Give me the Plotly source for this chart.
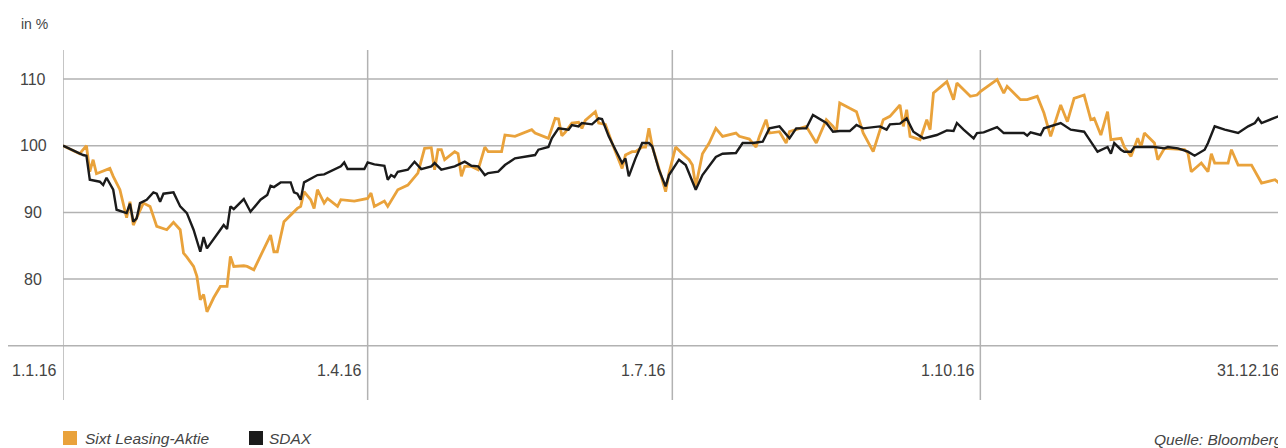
import pandas as pd
import plotly.graph_objects as go

# ---------------- data ----------------
sdax_days = [0, 6, 7, 8, 11, 12, 13, 15, 16, 19, 20, 21, 22, 23, 25, 27, 28, 29, 30, 33,
             35, 37, 39, 41, 42, 43, 47, 48, 49, 50, 51, 53, 54, 56, 59, 61, 62, 63, 65, 68,
             69, 70, 71, 72, 74, 76, 78, 81, 83, 84, 85, 90, 91, 93, 96, 97, 98, 99, 100, 103,
             105, 107, 110, 111, 113, 117, 120, 122, 124, 126, 127, 130, 132, 135, 138, 141, 142, 145, 146, 148,
             151, 152, 154, 155, 158, 160, 161, 163, 165, 167, 168, 169, 171, 173, 175, 176, 178, 180, 181, 182,
             184, 186, 189, 191, 194, 195, 197, 201, 203, 206, 209, 211, 214, 217, 219, 222, 224, 226, 228, 230,
             232, 235, 237, 239, 244, 246, 247, 250, 252, 254, 257, 261, 264, 266, 267, 269, 272, 273, 275, 279,
             281, 287, 288, 289, 292, 293, 298, 301, 305, 307, 309, 312, 313, 314, 316, 317, 319, 320, 326, 329,
             330, 333, 336, 338, 341, 342, 344, 347, 351, 354, 356, 357, 358, 363, 365]
sdax_values = [100.0, 98.6, 98.5, 94.9, 94.6, 94.1, 95.2, 93.4, 90.4, 89.9, 91.3, 88.6, 89.1, 91.4, 91.9, 93.0, 92.8, 91.6, 92.8, 93.0,
               90.9, 89.9, 87.4, 84.1, 86.3, 84.6, 87.4, 88.1, 87.5, 90.9, 90.5, 91.6, 92.0, 90.1, 91.9, 92.6, 94.0, 93.8, 94.5, 94.5,
               93.0, 92.8, 91.9, 94.5, 95.1, 95.6, 95.7, 96.4, 96.9, 97.5, 96.5, 96.5, 97.5, 97.2, 97.0, 94.9, 95.6, 95.3, 96.1, 96.4,
               97.6, 96.5, 96.9, 97.4, 96.4, 96.9, 97.6, 97.0, 96.9, 95.6, 95.9, 96.1, 97.1, 98.1, 98.3, 98.6, 99.4, 99.8, 101.1, 102.6,
               102.4, 103.1, 102.9, 103.4, 103.2, 104.1, 104.0, 101.4, 99.4, 97.4, 98.1, 95.4, 98.1, 100.4, 100.4, 99.9, 96.4, 93.9, 95.6, 96.4,
               97.9, 97.1, 93.4, 95.6, 97.6, 98.3, 98.8, 98.9, 100.4, 100.4, 100.6, 102.6, 102.9, 101.1, 102.6, 102.6, 104.6, 104.0, 103.4, 102.1,
               102.2, 102.2, 103.1, 102.6, 102.9, 102.4, 103.2, 103.3, 104.1, 102.1, 101.1, 101.6, 102.3, 102.2, 103.4, 102.4, 101.1, 101.9, 102.0, 102.8,
               101.9, 101.9, 101.5, 102.0, 101.6, 102.6, 103.4, 102.4, 102.1, 100.6, 99.1, 99.8, 98.8, 100.4, 99.4, 99.1, 99.1, 99.8, 99.8, 99.6,
               99.8, 99.6, 99.1, 98.5, 99.4, 100.4, 102.9, 102.4, 101.9, 102.9, 103.4, 104.1, 103.4, 104.4, 104.4]

sixt_days = [0, 5, 7, 8, 9, 10, 14, 15, 17, 19, 20, 21, 24, 26, 28, 31, 33, 35, 36, 37,
             39, 40, 41, 42, 43, 45, 47, 49, 50, 51, 54, 55, 57, 60, 62, 63, 64, 66, 68, 70,
             71, 72, 74, 75, 76, 78, 79, 82, 83, 87, 91, 92, 93, 96, 97, 100, 103, 106, 108, 110,
             111, 112, 113, 114, 117, 118, 119, 120, 122, 124, 126, 127, 131, 132, 135, 140, 141, 145, 147, 148,
             149, 150, 152, 154, 155, 156, 159, 160, 162, 164, 167, 168, 170, 171, 173, 174, 175, 176, 178, 180,
             181, 183, 185, 187, 188, 189, 191, 193, 195, 197, 201, 202, 205, 207, 208, 210, 211, 214, 216, 217,
             222, 225, 228, 230, 231, 232, 235, 237, 239, 242, 245, 247, 250, 251, 252, 253, 256, 258, 259, 260,
             264, 266, 267, 271, 273, 274, 279, 281, 282, 286, 288, 291, 293, 295, 298, 300, 302, 305, 307, 308,
             310, 312, 313, 316, 317, 319, 321, 322, 323, 326, 327, 329, 335, 336, 337, 340, 342, 343, 344, 348,
             349, 351, 355, 358, 362, 364, 365]
sixt_values = [100.0, 98.8, 100.0, 96.1, 97.9, 95.8, 96.6, 95.4, 93.4, 89.2, 91.6, 88.1, 91.4, 90.9, 87.9, 87.4, 88.5, 87.4, 83.9, 83.3,
               81.9, 80.4, 76.9, 77.7, 75.1, 77.2, 78.9, 78.9, 83.4, 81.9, 82.0, 81.9, 81.4, 84.4, 86.6, 84.1, 84.1, 88.6, 89.6, 90.6,
               90.9, 93.1, 91.9, 90.6, 93.4, 91.4, 92.1, 90.9, 91.9, 91.7, 92.1, 92.9, 90.9, 91.7, 90.9, 93.4, 94.1, 95.9, 99.6, 99.7,
               96.4, 99.4, 99.4, 97.9, 99.1, 98.8, 95.4, 96.9, 96.9, 96.4, 99.8, 99.1, 99.1, 101.6, 101.4, 102.4, 101.9, 101.1, 104.1, 104.0,
               101.5, 102.0, 103.4, 103.5, 102.6, 103.8, 105.1, 103.4, 103.2, 100.4, 96.6, 98.6, 99.1, 99.1, 99.8, 99.8, 102.6, 99.9, 96.6, 93.1,
               95.9, 99.8, 98.8, 97.9, 97.1, 93.9, 98.8, 100.4, 102.6, 101.4, 101.9, 101.4, 101.0, 99.8, 101.4, 103.9, 101.9, 102.1, 100.4, 102.1,
               102.9, 100.4, 103.9, 102.9, 102.1, 106.4, 105.6, 105.1, 101.9, 99.1, 103.9, 104.4, 106.1, 102.9, 105.4, 101.4, 100.9, 103.9, 102.4, 107.9,
               109.6, 106.9, 109.4, 107.4, 107.6, 108.1, 109.9, 107.9, 108.9, 106.9, 106.9, 107.4, 104.9, 101.4, 106.1, 103.6, 107.1, 107.6, 103.9, 104.1,
               101.6, 105.1, 100.9, 101.1, 99.8, 98.4, 101.1, 99.8, 101.9, 100.4, 97.9, 99.6, 99.4, 98.9, 96.1, 97.4, 96.1, 98.8, 97.4, 97.4,
               99.4, 97.1, 97.1, 94.4, 94.9, 94.1, 95.1]

x_tick_dates = ["2016-01-01", "2016-04-01", "2016-07-01", "2016-10-01", "2016-12-31"]
x_tick_labels = ["1.1.16", "1.4.16", "1.7.16", "1.10.16", "31.12.16"]
y_tick_values = [80, 90, 100, 110]
y_tick_labels = ["80", "90", "100", "110"]
y_base = 70
series_names = ["Sixt Leasing-Aktie", "SDAX"]
source_text = "Quelle: Bloomberg"
unit_text = "in %"

# ---------------- figure ----------------
start = pd.Timestamp("2016-01-01")
sixt_x = [start + pd.Timedelta(days=d) for d in sixt_days]
sdax_x = [start + pd.Timedelta(days=d) for d in sdax_days]

ORANGE = "#E9A23B"
BLACK = "#1b1b1b"
GRID = "#b2b2b2"
TEXT = "#444444"
FONT = "Liberation Sans, Arial, sans-serif"

# the page body has an 8px margin: figure is drawn at page offset (8, 8)
OFF = 8
W, H = 1286 - OFF, 448 - OFF
PL, PR, PT, PB = 63, 1285, 50, 400          # plot area in page pixels
ML, MR, MT, MB = PL - OFF, (W + OFF) - PR, PT - OFF, (H + OFF) - PB
PW, PH = PR - PL, PB - PT


def px(xp):
    return (xp - PL) / PW


def py(yp):
    return (PB - yp) / PH


fig = go.Figure()
fig.add_trace(go.Scatter(x=sixt_x, y=sixt_values, mode="lines", name=series_names[0],
                         line=dict(color=ORANGE, width=2.8), showlegend=False))
fig.add_trace(go.Scatter(x=sdax_x, y=sdax_values, mode="lines", name=series_names[1],
                         line=dict(color=BLACK, width=2.4), showlegend=False))

shapes = []
for v in y_tick_values:
    shapes.append(dict(type="line", xref="paper", yref="y", x0=0, x1=1, y0=v, y1=v,
                       line=dict(color=GRID, width=1.5), layer="below"))
shapes.append(dict(type="line", xref="paper", yref="y", x0=px(8), x1=1, y0=y_base, y1=y_base,
                   line=dict(color=GRID, width=1.5), layer="below"))
for d in x_tick_dates:
    shapes.append(dict(type="line", xref="x", yref="paper", x0=d, x1=d, y0=0, y1=1,
                       line=dict(color=GRID, width=1.5), layer="below"))

# legend squares
shapes.append(dict(type="rect", xref="paper", yref="paper", x0=px(63), x1=px(77), y0=py(445), y1=py(431),
                   fillcolor=ORANGE, line=dict(width=0)))
shapes.append(dict(type="rect", xref="paper", yref="paper", x0=px(249), x1=px(263), y0=py(445), y1=py(431),
                   fillcolor=BLACK, line=dict(width=0)))

ann = []
for v, t in zip(y_tick_values, y_tick_labels):
    ann.append(dict(x=px(33), y=v, xref="paper", yref="y", text=t, showarrow=False,
                    xanchor="center", yanchor="middle", font=dict(size=16, color=TEXT)))
for d, t in zip(x_tick_dates, x_tick_labels):
    ann.append(dict(x=d, y=py(370), xref="x", yref="paper", text=t, showarrow=False,
                    xanchor="right", yanchor="middle", xshift=-4, font=dict(size=16, color=TEXT)))
ann.append(dict(x=px(19), y=py(24), xref="paper", yref="paper", text=unit_text, showarrow=False,
                xanchor="left", yanchor="middle", font=dict(size=14, color=TEXT)))
ann.append(dict(x=px(83), y=py(438), xref="paper", yref="paper", text="<i>" + series_names[0] + "</i>",
                showarrow=False, xanchor="left", yanchor="middle", font=dict(size=15.5, color=TEXT)))
ann.append(dict(x=px(267), y=py(438), xref="paper", yref="paper", text="<i>" + series_names[1] + "</i>",
                showarrow=False, xanchor="left", yanchor="middle", font=dict(size=15.5, color=TEXT)))
ann.append(dict(x=px(1285), y=py(439), xref="paper", yref="paper", text="<i>" + source_text + "</i>",
                showarrow=False, xanchor="right", yanchor="middle", font=dict(size=15.5, color=TEXT)))

fig.update_layout(
    width=W, height=H,
    margin=dict(l=ML, r=MR, t=MT, b=MB, pad=0),
    paper_bgcolor="white", plot_bgcolor="white",
    font=dict(family=FONT, color=TEXT),
    xaxis=dict(range=[x_tick_dates[0], x_tick_dates[-1]], showgrid=False, zeroline=False,
               showticklabels=False, showline=False, fixedrange=True),
    yaxis=dict(range=[100 - (PB - 145.7) / 6.67, 100 + (145.7 - PT) / 6.67], showgrid=False, zeroline=False,
               showticklabels=False, showline=False, fixedrange=True),
    shapes=shapes, annotations=ann, showlegend=False,
)

fig.write_html("out.html")
